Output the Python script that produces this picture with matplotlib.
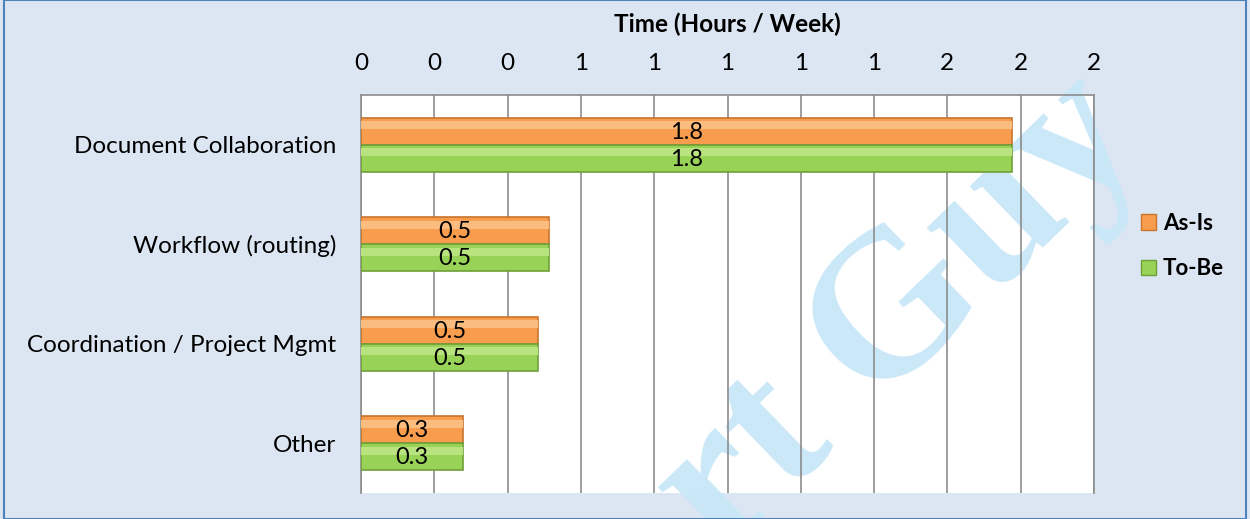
import numpy as np
import matplotlib
matplotlib.use("Agg")
from matplotlib import pyplot as plt
from matplotlib.patches import Patch, Rectangle
from matplotlib.ticker import FormatStrFormatter

categories = ["Document Collaboration", "Workflow (routing)",
              "Coordination / Project Mgmt", "Other"]
as_is = [1.775, 0.513, 0.483, 0.278]
to_be = [1.775, 0.513, 0.483, 0.278]
series_names = ["As-Is", "To-Be"]

plt.rcParams['font.family'] = ['Lato', 'DejaVu Sans']

fig = plt.figure(figsize=(12.5, 5.19), dpi=100)
fig.patch.set_facecolor('#dce6f2')
fig.patches.append(Rectangle((0.003, 0.0), 0.994, 1.0, transform=fig.transFigure,
                             fill=False, edgecolor='#4f81bd', lw=1.5))

ax = fig.add_axes([0.2888, 0.0501, 0.5864, 0.767])
ax.set_facecolor('white')

y = np.arange(len(categories))
h = 0.27
orange, orange_edge = '#f89c4e', '#c8742e'
green, green_edge = '#98d257', '#6f9f38'

b1 = ax.barh(y - h / 2, as_is, height=h, color=orange, edgecolor=orange_edge,
             lw=1.2, zorder=3)
b2 = ax.barh(y + h / 2, to_be, height=h, color=green, edgecolor=green_edge,
             lw=1.2, zorder=3)
# light top stripe to fake the bevel
ax.barh(y - h / 2 - h * 0.22, as_is, height=h * 0.3, color='#fbbd7f', lw=0, zorder=3.5)
ax.barh(y + h / 2 - h * 0.22, to_be, height=h * 0.3, color='#b8e37f', lw=0, zorder=3.5)

for bars, vals in ((b1, as_is), (b2, to_be)):
    for b, v in zip(bars, vals):
        ax.text(v / 2, b.get_y() + b.get_height() / 2 + 0.01, f"{v:.1f}",
                ha='center', va='center', fontsize=17, zorder=5)

ax.set_xlim(0, 2.0)
ax.set_ylim(len(categories) - 0.5, -0.5)
ax.set_xticks(np.arange(0, 2.01, 0.2))
ax.xaxis.set_major_formatter(FormatStrFormatter('%.0f'))
ax.xaxis.tick_top()
ax.xaxis.set_label_position('top')
ax.set_yticks(y)
ax.set_yticklabels(categories)
ax.tick_params(axis='x', length=0, pad=15, labelsize=17.5)
ax.tick_params(axis='y', length=0, pad=18, labelsize=17.5)
ax.set_xlabel("Time (Hours / Week)", fontsize=17.5, fontweight='bold', labelpad=15)

ax.set_axisbelow(True)
ax.grid(axis='x', color='#8c8c8c', lw=1.2)
for s in ax.spines.values():
    s.set_color('#8c8c8c')
    s.set_linewidth(1.2)
ax.spines['bottom'].set_visible(False)

# watermark
ax.text(0.72, 0.39, "rt Guy", transform=fig.transFigure, fontsize=150,
        family='Liberation Serif', fontweight='bold', color='#cae8f8', rotation=44,
        rotation_mode='anchor', ha='center', va='center', zorder=0.2,
        clip_on=False)

handles = [Patch(facecolor=orange, edgecolor=orange_edge),
           Patch(facecolor=green, edgecolor=green_edge)]
leg = fig.legend(handles, series_names, loc='center', bbox_to_anchor=(0.946, 0.526),
                 frameon=False, handlelength=0.7, handleheight=0.7,
                 handletextpad=0.3, labelspacing=1.1,
                 prop={'size': 16, 'weight': 'bold'})

fig.savefig("out.png", dpi=100, facecolor=fig.get_facecolor())
